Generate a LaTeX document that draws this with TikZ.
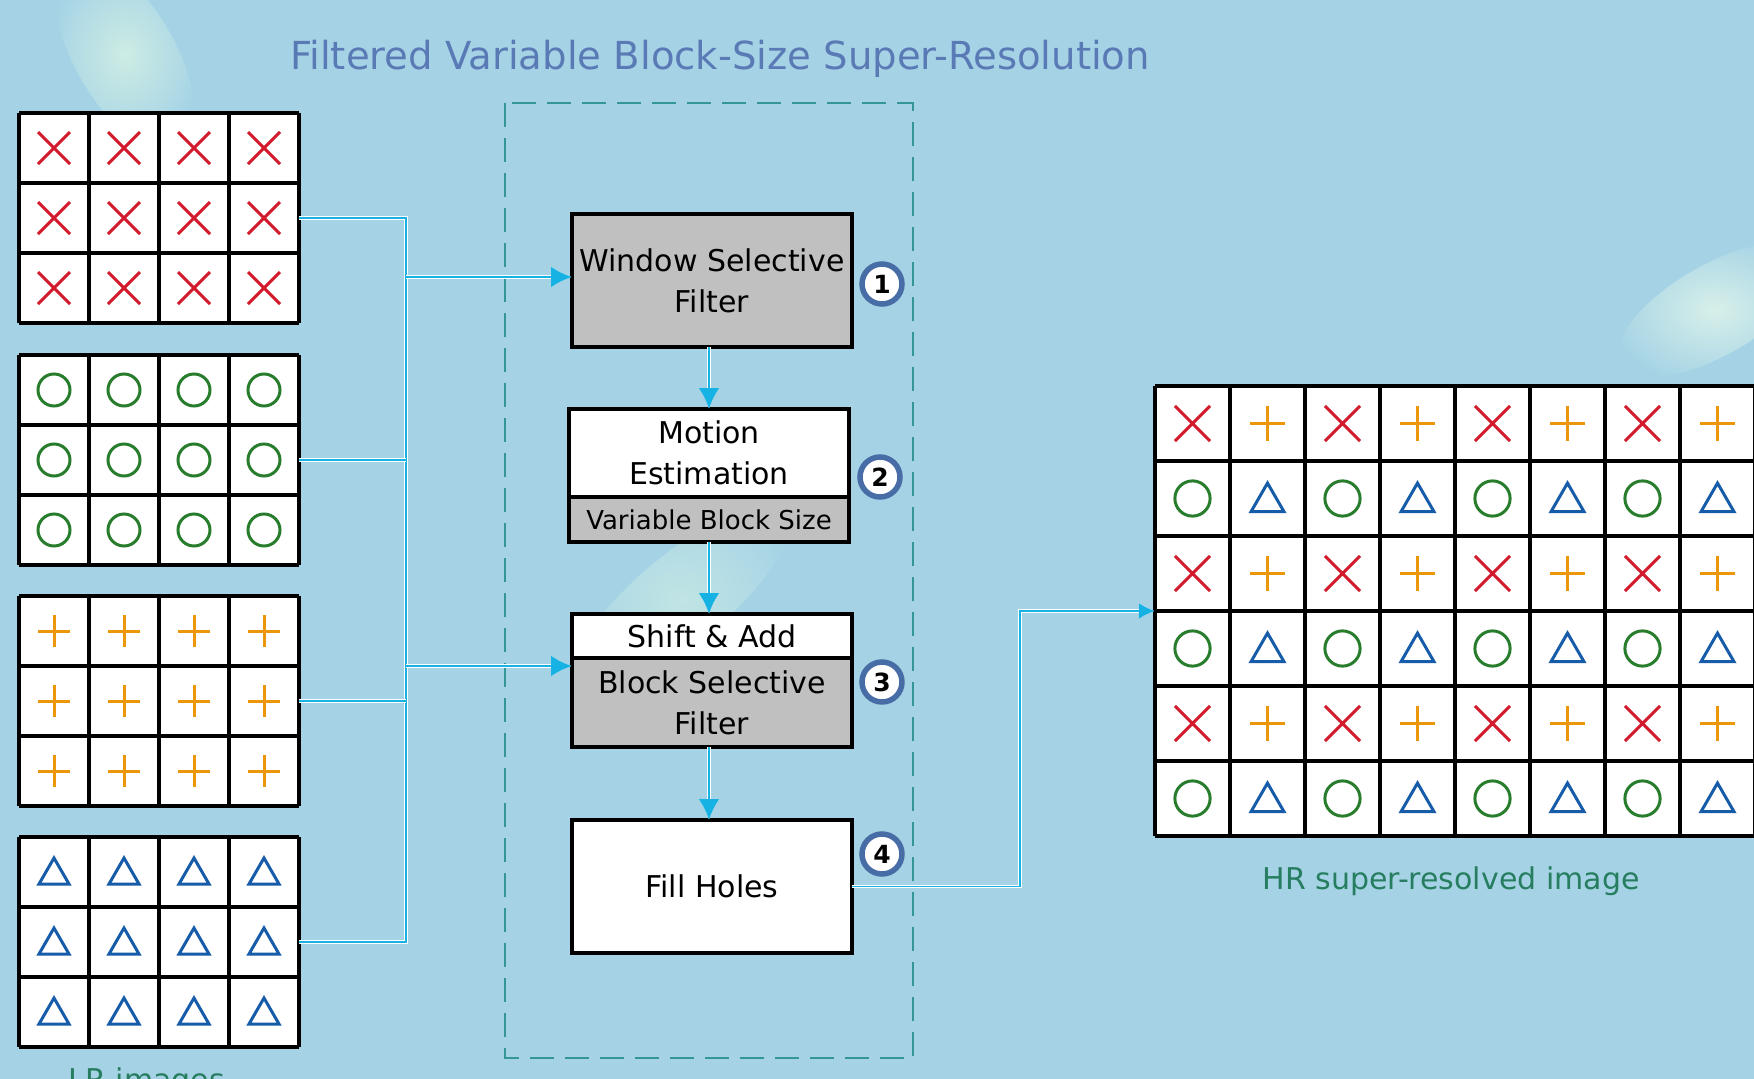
\documentclass[tikz,border=0pt]{standalone}
\usepackage{fontspec}
\setmainfont{DejaVu Sans}
\usetikzlibrary{arrows.meta}
\definecolor{bgblue}{RGB}{165,211,229}
\definecolor{haze}{RGB}{205,236,228}
\definecolor{wirecyan}{RGB}{22,178,228}
\definecolor{framegreen}{RGB}{52,150,150}
\definecolor{titleblue}{RGB}{90,122,182}
\definecolor{labelgreen}{RGB}{38,125,95}
\definecolor{ringblue}{RGB}{72,108,165}
\definecolor{boxgray}{RGB}{192,192,192}
\definecolor{symred}{RGB}{210,28,45}
\definecolor{symgreen}{RGB}{40,125,45}
\definecolor{symorange}{RGB}{236,150,10}
\definecolor{symblue}{RGB}{22,92,168}
\def\lrcell{70}
\def\hrcell{75}
\def\lrleft{19}
\def\hrleft{1155}
\def\hrtop{386}
\def\busx{406}
\tikzset{
  block/.style={draw=black, line width=3.5pt, fill=white, minimum width=280pt, inner sep=0pt, outer sep=0pt, align=center, font=\fontsize{30}{41}\selectfont},
  grayblock/.style={block, fill=boxgray},
  stepnum/.style={circle, draw=ringblue, line width=5.5pt, fill=white, minimum size=40pt, inner sep=0pt, font=\fontsize{25}{25}\selectfont\bfseries},
  wire/.style={draw=wirecyan, line width=2.8pt, preaction={draw=white, line width=4.4pt}},
  outwire/.style={draw=wirecyan, line width=1.8pt, preaction={draw=white, line width=3.2pt}},
  arr/.style={-{Latex[length=21pt,width=21pt]}},
  gridline/.style={black, line width=3.5pt},
  xmark/.pic={\draw[symred, line width=3pt] (-16,-16) -- (16,16) (-16,16) -- (16,-16);},
  omark/.pic={\draw[symgreen, line width=3pt] (0,0) circle[radius=16];},
  pmark/.pic={\draw[symorange, line width=3pt] (-16,0) -- (16,0) (0,-16) -- (0,16);},
  tmark/.pic={\draw[symblue, line width=3pt, line join=miter] (-15,12) -- (15,12) -- (0,-14) -- cycle;},
}
\begin{document}
\begin{tikzpicture}[x=1pt, y=-1pt]

% Background
\fill[bgblue] (0,0) rectangle (1754,1079);
\useasboundingbox (0,0) rectangle (1754,1079);
\shade[inner color=haze, outer color=bgblue, rotate around={30:(125,55)}] (125,55) ellipse [x radius=50, y radius=110];
\shade[inner color=haze!70!bgblue, outer color=bgblue, rotate around={-50:(680,600)}] (680,600) ellipse [x radius=45, y radius=140];
\shade[inner color=haze!80!white, outer color=bgblue, rotate around={-60:(1715,310)}] (1715,310) ellipse [x radius=45, y radius=110];

% Title
\node[anchor=base, text=titleblue, font=\fontsize{38.6}{40}\selectfont] (title) at (720,69) {Filtered Variable Block-Size Super-Resolution};

% Frame
\draw[framegreen, line width=2pt, dash pattern=on 24pt off 11pt] (505,103) rectangle (913,1058);

% LR images
\foreach \gtop/\sym [count=\i] in {113/xmark, 355/omark, 596/pmark, 837/tmark} {
  \node[fill=white, minimum width=280pt, minimum height=210pt, inner sep=0pt] (lr\i) at (\lrleft+140, \gtop+105) {};
  \foreach \c in {0,...,3}
    \foreach \r in {0,...,2}
      \pic at (\lrleft+35+\lrcell*\c, \gtop+35+\lrcell*\r) {\sym};
  \foreach \c in {0,...,4}
    \draw[gridline] (\lrleft+\lrcell*\c, \gtop) -- ++(0,210);
  \foreach \r in {0,...,3}
    \draw[gridline] (\lrleft, \gtop+\lrcell*\r) -- ++(280,0);
}

% HR image
\node[fill=white, minimum width=600pt, minimum height=450pt, inner sep=0pt] (hr) at (\hrleft+300, \hrtop+225) {};
\foreach \r in {0,2,4}
  \foreach \c in {0,2,4,6} {
    \pic[scale=1.1] at (\hrleft+37.5+\hrcell*\c, \hrtop+37.5+\hrcell*\r) {xmark};
    \pic[scale=1.1] at (\hrleft+112.5+\hrcell*\c, \hrtop+37.5+\hrcell*\r) {pmark};
  }
\foreach \r in {1,3,5}
  \foreach \c in {0,2,4,6} {
    \pic[scale=1.1] at (\hrleft+37.5+\hrcell*\c, \hrtop+37.5+\hrcell*\r) {omark};
    \pic[scale=1.1] at (\hrleft+112.5+\hrcell*\c, \hrtop+37.5+\hrcell*\r) {tmark};
  }
\foreach \c in {0,...,8}
  \draw[gridline] (\hrleft+\hrcell*\c, \hrtop) -- ++(0,450);
\foreach \r in {0,...,6}
  \draw[gridline] (\hrleft, \hrtop+\hrcell*\r) -- ++(600,0);

% Blocks
\node[grayblock, minimum height=133pt] (wsf) at (712,280.5) {Window Selective\\Filter};
\node[block, minimum height=88pt] (me) at (709,453) {Motion\\Estimation};
\node[grayblock, minimum height=45pt, anchor=north, font=\fontsize{26}{26}\selectfont] (vbs) at (me.south) {Variable Block Size};
\node[block, minimum height=44pt] (sa) at (712,636) {Shift \& Add};
\node[grayblock, minimum height=89pt, anchor=north] (bsf) at (sa.south) {Block Selective\\Filter};
\node[block, minimum height=133pt] (fh) at (712,886.5) {Fill Holes};

% Step numbers
\node[stepnum] (s1) at (882,284) {1};
\node[stepnum] (s2) at (880,477) {2};
\node[stepnum] (s3) at (882,682) {3};
\node[stepnum] (s4) at (882,854) {4};

% Inputs
\coordinate (bus) at (\busx,0);
\draw[wire] (lr1.east) -- (bus |- lr1.east) -- (bus |- lr4.east) -- (lr4.east);
\draw[wire] (lr2.east) -- (bus |- lr2.east);
\draw[wire] (lr3.east) -- (bus |- lr3.east);
\coordinate (in1) at ([yshift=3.5pt]wsf.west);
\coordinate (in3) at ([yshift=-8pt]bsf.north west);
\draw[wire, arr] (bus |- in1) -- (in1);
\draw[wire, arr] (bus |- in3) -- (in3);

% Chain
\coordinate (spine) at (709,0);
\draw[wire, arr] (spine |- wsf.south) -- (spine |- me.north);
\draw[wire, arr] (spine |- vbs.south) -- (spine |- sa.north);
\draw[wire, arr] (spine |- bsf.south) -- (spine |- fh.north);

% Output
\coordinate (turn) at (1020,0);
\draw[outwire, -{Latex[length=16pt,width=16pt]}] (fh.east) -| (turn |- hr.west) -- (hr.west);

% Labels
\node[anchor=base, text=labelgreen, font=\fontsize{30}{30}\selectfont] (hrlabel) at (1451,889) {HR super-resolved image};
\node[anchor=base, text=labelgreen, font=\fontsize{30}{30}\selectfont] (lrlabel) at (147,1090) {LR images};

\end{tikzpicture}
\end{document}
